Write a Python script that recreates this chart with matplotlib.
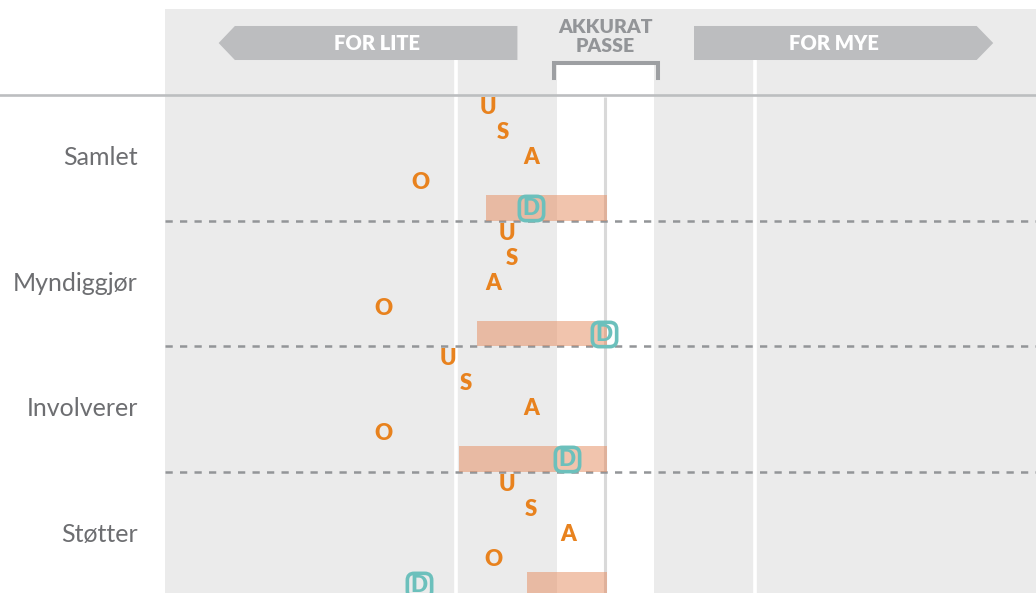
import numpy as np
import matplotlib
matplotlib.use("Agg")
import matplotlib.pyplot as plt
from matplotlib.patches import Polygon, FancyBboxPatch
from matplotlib.transforms import blended_transform_factory

plt.rcParams['font.family'] = ['Lato', 'DejaVu Sans']

# data (0 = "akkurat passe", -1 / +1 = white guide lines)
groups = ['Samlet', 'Myndiggjør', 'Involverer', 'Støtter']
letters = ['U', 'S', 'A', 'O']
u_vals = [-0.79, -0.66, -1.06, -0.66]
s_vals = [-0.69, -0.63, -0.94, -0.50]
a_vals = [-0.50, -0.75, -0.50, -0.25]
o_vals = [-1.24, -1.49, -1.49, -0.75]
d_vals = [-0.50, -0.01, -0.26, -1.25]
bar_start = [-0.80, -0.86, -0.98, -0.53]
bar_end = [0.01, 0.01, 0.01, 0.01]

ORANGE = '#e8821e'
TEAL = '#6cc0bc'
BAR = '#e68e62'
BG = '#ebebeb'
HEAD = '#bcbdbf'
GREY_TXT = '#939598'
LABEL = '#6d6e71'

W, H = 1036, 593
fig = plt.figure(figsize=(W / 100, H / 100), dpi=100)
ax = fig.add_axes([165 / W, 0, 871 / W, (H - 9) / H])
ax.set_facecolor(BG)
ax.set_xlim(-2.956, 2.889)
ax.set_ylim(19.84, -3.426)
ax.axis('off')
ax.add_patch(plt.Rectangle((0, 0), 1, 1, transform=ax.transAxes, color=BG, zorder=0))

n_rows = 5
# white "just right" band + guide lines
ax.fill_between([-0.325, 0.325], -1.195, 20, color='white', lw=0, zorder=1)
ax.vlines([-1, 1], -1.434, 20, color='white', lw=2.6, zorder=1)
ax.vlines(0, 0.08, 20, color='#d9d9d9', lw=2.2, zorder=1.5)

# bracket over band
ax.plot([-0.346, -0.346, 0.350, 0.350], [-0.69, -1.275, -1.275, -0.69],
        color='#9d9fa2', lw=2.9, solid_joinstyle='miter', zorder=2)

# header arrows
left_arrow = Polygon([[-2.596, -2.07], [-2.487, -2.749], [-0.591, -2.749],
                      [-0.591, -1.394], [-2.487, -1.394]], closed=True,
                     color=HEAD, lw=0, zorder=2)
right_arrow = Polygon([[2.602, -2.07], [2.491, -2.749], [0.594, -2.749],
                       [0.594, -1.394], [2.491, -1.394]], closed=True,
                      color=HEAD, lw=0, zorder=2)
ax.add_patch(left_arrow)
ax.add_patch(right_arrow)
ax.text(-1.53, -2.07, 'FOR LITE', color='white', fontsize=14.5, fontweight='heavy',
        ha='center', va='center', zorder=3)
ax.text(1.53, -2.07, 'FOR MYE', color='white', fontsize=14.5, fontweight='heavy',
        ha='center', va='center', zorder=3)
ax.text(0.0, -2.30, 'AKKURAT\nPASSE', color=GREY_TXT, fontsize=14, fontweight='heavy',
        ha='center', va='center', linespacing=1.12, zorder=3)

# solid line under header, spanning full figure width
hline_tr = blended_transform_factory(fig.transFigure, ax.transData)
ax.plot([0, 1], [0, 0], color='#bcbec0', lw=1.9, transform=hline_tr,
        clip_on=False, zorder=5)

# dashed separators between groups
for g in range(1, len(groups)):
    ax.axhline(g * n_rows, color=GREY_TXT, lw=1.8, ls=(0, (2.9, 2.9)), zorder=2)

# rounded square marker for D
box_path = FancyBboxPatch((-0.5, -0.5), 1, 1,
                          boxstyle='round,pad=0,rounding_size=0.28').get_path()

label_tr = blended_transform_factory(ax.transAxes, ax.transData)
for g, name in enumerate(groups):
    base = g * n_rows
    vals = [u_vals[g], s_vals[g], a_vals[g], o_vals[g]]
    for k, (ch, v) in enumerate(zip(letters, vals)):
        ax.text(v, base + k + 0.5, ch, color=ORANGE, fontsize=16, fontweight='heavy',
                ha='center', va='center', zorder=4)
    y_d = base + 4.5
    ax.barh(y_d, bar_end[g] - bar_start[g], left=bar_start[g], height=1.0,
            color=BAR, alpha=0.52, lw=0, zorder=3)
    ax.plot(d_vals[g], y_d + 0.02, marker=box_path, ms=17.5, mfc='none',
            mec=TEAL, mew=2.6, zorder=4)
    ax.text(d_vals[g], y_d + 0.04, 'D', color=TEAL, fontsize=16, fontweight='heavy',
            ha='center', va='center', zorder=4)
    ax.text(-0.031, base + 2.5, name, color=LABEL, fontsize=18, ha='right',
            va='center', transform=label_tr, clip_on=False)

fig.savefig('out.png', dpi=100)
